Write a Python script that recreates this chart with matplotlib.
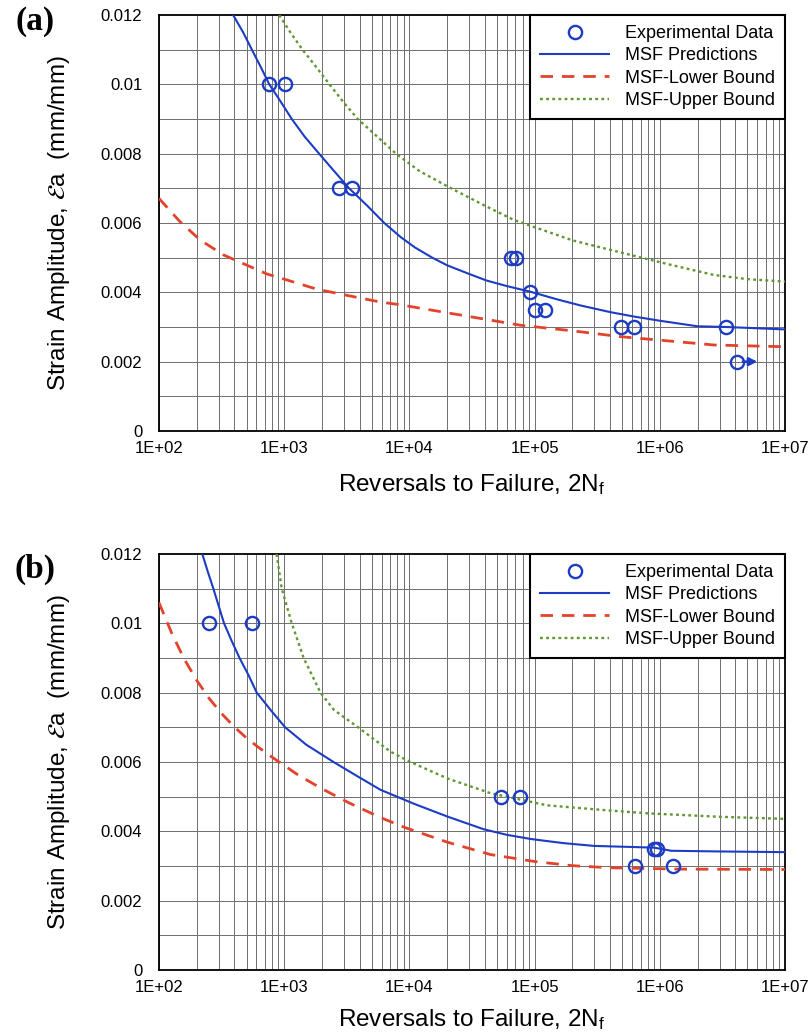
import numpy as np
import matplotlib
matplotlib.use('Agg')
import matplotlib.pyplot as plt

plt.rcParams['font.family'] = ['Liberation Sans', 'DejaVu Sans']
plt.rcParams['mathtext.fontset'] = 'stix'

# ---- data ----
# panel (a)
a_exp_N = [760, 1006, 2720, 3500, 64300, 70500, 91800, 100600, 120200, 493000, 623000, 3.37e6]
a_exp_e = [0.010, 0.010, 0.007, 0.007, 0.005, 0.005, 0.004, 0.0035, 0.0035, 0.003, 0.003, 0.003]
a_runout_N = [4.1e6]
a_runout_e = [0.002]
a_runout_end = 6.0e6

a_msf_N = [391, 470, 552, 650, 760, 900, 1150, 1450, 1900, 2500, 3300, 4600, 6300, 8470,
           11000, 15200, 20000, 29000, 41300, 60000, 91800, 150000, 233000, 400000,
           623000, 1.0e6, 2.0e6, 3.37e6, 1e7]
a_msf_e = [0.012, 0.0115, 0.011, 0.0105, 0.0100, 0.0096, 0.009, 0.0085, 0.008, 0.0075,
           0.0070, 0.0065, 0.0060, 0.0056, 0.0053, 0.0050, 0.00478, 0.00455, 0.00434,
           0.00418, 0.00402, 0.0038, 0.00362, 0.00343, 0.0033, 0.00318, 0.00302, 0.0030,
           0.00293]

a_low_N = [100, 147, 213, 327, 727, 1000, 1825, 3000, 5860, 8470, 20000, 77300, 200000,
           487000, 1.0e6, 2.72e6, 1e7]
a_low_e = [0.00671, 0.00604, 0.00551, 0.00508, 0.00453, 0.00438, 0.00409, 0.00393, 0.00372,
           0.00364, 0.00341, 0.00305, 0.00289, 0.00272, 0.00262, 0.00248, 0.00243]

a_up_N = [912, 1120, 1400, 1800, 2300, 2950, 3870, 5500, 7800, 12000, 21500, 40000, 68000,
          200000, 660000, 1.2e6, 2.7e6, 5.0e6, 1e7]
a_up_e = [0.012, 0.0115, 0.011, 0.0105, 0.010, 0.0095, 0.009, 0.0085, 0.008, 0.0075, 0.007,
          0.0065, 0.00609, 0.0055, 0.00503, 0.0048, 0.0045, 0.00438, 0.00431]

# panel (b)
b_exp_N = [251, 552, 53500, 75900, 890000, 946000, 632000, 1.27e6]
b_exp_e = [0.010, 0.010, 0.005, 0.005, 0.0035, 0.0035, 0.003, 0.003]

b_msf_N = [222, 245, 272, 300, 331, 380, 440, 520, 604, 780, 1019, 1500, 2480, 3800, 5860,
           10800, 20000, 39200, 60000, 92900, 170000, 298000, 588000, 900000, 1.23e6,
           3.0e6, 1e7]
b_msf_e = [0.012, 0.0115, 0.011, 0.0105, 0.010, 0.0095, 0.009, 0.0085, 0.008, 0.0075, 0.007,
           0.0065, 0.0060, 0.0056, 0.0052, 0.0048, 0.00443, 0.00406, 0.0039, 0.00378, 0.00366,
           0.00358, 0.00355, 0.00353, 0.00344, 0.00342, 0.0034]

b_low_N = [100, 126, 158, 200, 251, 316, 398, 501, 631, 794, 1000, 1300, 2000, 3300, 5860,
           9220, 20000, 44500, 100000, 200000, 400000, 1.47e6, 1e7]
b_low_e = [0.0106, 0.00973, 0.00899, 0.00836, 0.00784, 0.0074, 0.00702, 0.00669, 0.00641,
           0.00615, 0.0059, 0.00562, 0.00523, 0.00482, 0.0044, 0.00411, 0.00369, 0.00333,
           0.00313, 0.00301, 0.00295, 0.00291, 0.0029]

b_up_N = [870, 956, 1150, 1430, 1950, 2500, 3900, 7050, 10200, 20000, 44500, 126000,
          400000, 797000, 3.0e6, 1e7]
b_up_e = [0.012, 0.011, 0.010, 0.009, 0.008, 0.0075, 0.007, 0.0063, 0.006, 0.00553, 0.0051,
          0.00475, 0.0046, 0.00452, 0.00442, 0.00436]

xticks = [1e2, 1e3, 1e4, 1e5, 1e6, 1e7]
xtick_labels = ['1E+02', '1E+03', '1E+04', '1E+05', '1E+06', '1E+07']
yticks = [0, 0.002, 0.004, 0.006, 0.008, 0.01, 0.012]
ytick_labels = ['0', '0.002', '0.004', '0.006', '0.008', '0.01', '0.012']

BLUE = '#1c3cc4'
RED = '#e4432b'
GREEN = '#629632'

fig = plt.figure(figsize=(8.09, 10.36), dpi=100)
ax_a = fig.add_axes([0.1965, 0.584, 0.774, 0.4015])
ax_b = fig.add_axes([0.1965, 0.0637, 0.774, 0.4015])


def draw(ax, exp_N, exp_e, msf_N, msf_e, low_N, low_e, up_N, up_e, xpad):
    ax.set_xscale('log')
    ax.set_xlim(1e2, 1e7)
    ax.set_ylim(0, 0.012)
    # excel style grid
    for dec in [1e2, 1e3, 1e4, 1e5, 1e6]:
        for m in range(1, 10):
            ax.axvline(dec * m, color='#6e6e6e', lw=0.7, zorder=0)
    for yv in np.arange(0.001, 0.012, 0.001):
        ax.axhline(yv, color='#6e6e6e', lw=0.7, zorder=0)

    ax.plot(exp_N, exp_e, 'o', ms=9.5, mfc='none', mec=BLUE, mew=1.7,
            label='Experimental Data', zorder=5)
    ax.plot(msf_N, msf_e, '-', color=BLUE, lw=1.5, label='MSF Predictions', zorder=4)
    ax.plot(low_N, low_e, color=RED, lw=2.0, dashes=(4.5, 3.2), label='MSF-Lower Bound', zorder=3)
    ax.plot(up_N, up_e, color=GREEN, lw=1.7, dashes=(1.2, 1.4), label='MSF-Upper Bound', zorder=3)

    ax.set_xticks(xticks)
    ax.set_xticklabels(xtick_labels)
    ax.xaxis.set_minor_locator(matplotlib.ticker.NullLocator())
    ax.set_yticks(yticks)
    ax.set_yticklabels(ytick_labels)
    ax.tick_params(axis='both', length=0, labelsize=12)
    ax.tick_params(axis='x', pad=7)
    ax.tick_params(axis='y', pad=12)
    for s in ax.spines.values():
        s.set_linewidth(1.3)
        s.set_color('black')

    ax.set_xlabel('Reversals to Failure, 2N$_\\mathregular{f}$', fontsize=17.5, labelpad=xpad)
    ax.set_ylabel('Strain Amplitude, $\\mathcal{E}$a  (mm/mm)', fontsize=17.5)
    ax.yaxis.set_label_coords(-0.139, 0.5)

    leg = ax.legend(loc='upper right', fontsize=13, frameon=True, fancybox=False,
                    borderaxespad=0, handlelength=3.8, labelspacing=0.3,
                    borderpad=0.55, handletextpad=0.9)
    leg.get_frame().set_edgecolor('black')
    leg.get_frame().set_linewidth(1.5)
    leg.get_frame().set_alpha(1)
    return ax


draw(ax_a, a_exp_N, a_exp_e, a_msf_N, a_msf_e, a_low_N, a_low_e, a_up_N, a_up_e, 12)
ax_a.plot(a_runout_N, a_runout_e, 'o', ms=9.5, mfc='none', mec=BLUE, mew=1.7, zorder=5)
ax_a.annotate('', xy=(a_runout_end, a_runout_e[0]), xytext=(a_runout_N[0] * 1.12, a_runout_e[0]),
              arrowprops=dict(arrowstyle='-|>', color=BLUE, lw=1.8, mutation_scale=12,
                              shrinkA=0, shrinkB=0), zorder=5)

draw(ax_b, b_exp_N, b_exp_e, b_msf_N, b_msf_e, b_low_N, b_low_e, b_up_N, b_up_e, 9)

fig.text(0.043, 0.979, '(a)', fontsize=24, fontweight='bold', family='Liberation Serif',
         ha='center', va='center')
fig.text(0.043, 0.45, '(b)', fontsize=24, fontweight='bold', family='Liberation Serif',
         ha='center', va='center')

fig.savefig('out.png', dpi=100)
